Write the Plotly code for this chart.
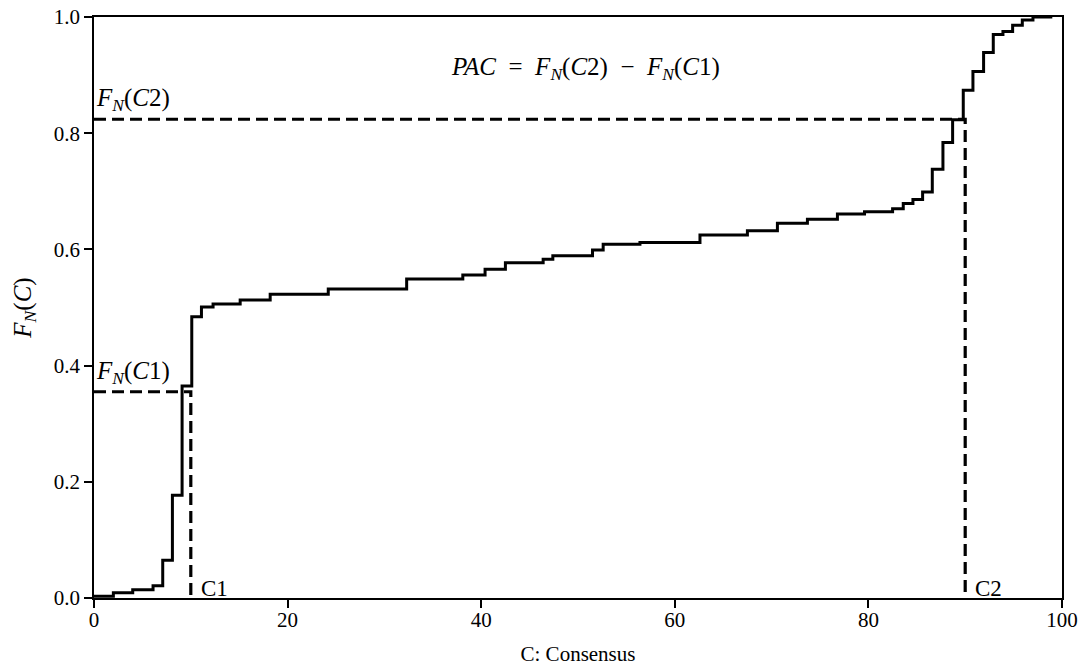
import plotly.graph_objects as go

# Empirical CDF step points (x where the step occurs, value after the step)
consensus = [0, 2.0, 4.0, 6.1, 7.1, 8.1, 9.1, 10.1, 11.1, 12.3, 15.1, 18.2, 24.2, 32.3,
             38.1, 40.4, 42.5, 46.4, 47.4, 51.5, 52.6, 56.4, 62.6, 67.5, 70.6, 73.7,
             76.8, 79.6, 82.5, 83.6, 84.6, 85.6, 86.6, 87.7, 88.7, 89.8, 90.8, 91.9,
             92.9, 93.9, 94.9, 95.9, 97.0, 99.0]
cdf = [0.003, 0.009, 0.014, 0.021, 0.065, 0.177, 0.365, 0.484, 0.501, 0.506, 0.513,
       0.523, 0.532, 0.549, 0.556, 0.566, 0.577, 0.583, 0.589, 0.599, 0.609, 0.612,
       0.625, 0.632, 0.645, 0.652, 0.661, 0.665, 0.670, 0.679, 0.686, 0.699, 0.738,
       0.784, 0.823, 0.874, 0.906, 0.939, 0.970, 0.975, 0.986, 0.995, 1.0, 1.0]

c1 = 10
c2 = 90
f_c1 = 0.355
f_c2 = 0.824

x_ticks = [0, 20, 40, 60, 80, 100]
y_ticks = [0.0, 0.2, 0.4, 0.6, 0.8, 1.0]
y_tick_labels = ["0.0", "0.2", "0.4", "0.6", "0.8", "1.0"]

FONT = "Liberation Serif"
dash = "12px,6px"

fig = go.Figure()
fig.add_trace(go.Scatter(x=consensus, y=cdf, mode="lines", line_shape="hv",
                         line=dict(color="black", width=3), showlegend=False,
                         hoverinfo="skip"))
# C1 guides
fig.add_trace(go.Scatter(x=[0, c1, c1], y=[f_c1, f_c1, 0], mode="lines",
                         line=dict(color="black", width=3.2, dash=dash), showlegend=False))
# C2 guides
fig.add_trace(go.Scatter(x=[0, c2, c2], y=[f_c2, f_c2, 0], mode="lines",
                         line=dict(color="black", width=3.2, dash=dash), showlegend=False))

math_font = dict(family=FONT, size=25, color="black")
fig.add_annotation(x=0, y=f_c2, xref="x", yref="y", text="<i>F</i><sub><i>N</i></sub>(<i>C</i>2)",
                   showarrow=False, xanchor="left", yanchor="bottom", yshift=2, font=math_font)
fig.add_annotation(x=0, y=f_c1, xref="x", yref="y", text="<i>F</i><sub><i>N</i></sub>(<i>C</i>1)",
                   showarrow=False, xanchor="left", yanchor="bottom", yshift=2, font=math_font)
lab_font = dict(family=FONT, size=23, color="black")
fig.add_annotation(x=c1, y=0, xref="x", yref="y", text="C1", showarrow=False,
                   xanchor="left", yanchor="bottom", xshift=8, yshift=-5, font=lab_font)
fig.add_annotation(x=c2, y=0, xref="x", yref="y", text="C2", showarrow=False,
                   xanchor="left", yanchor="bottom", xshift=8, yshift=-5, font=lab_font)
fig.add_annotation(x=50.8, y=0.912, xref="x", yref="y",
                   text="<i>PAC</i>&nbsp; = &nbsp;<i>F</i><sub><i>N</i></sub>(<i>C</i>2)&nbsp; \u2212 &nbsp;<i>F</i><sub><i>N</i></sub>(<i>C</i>1)",
                   showarrow=False, xanchor="center", yanchor="middle", font=math_font)

axis_common = dict(showgrid=False, zeroline=False, showline=True, linecolor="black",
                   linewidth=1.5, mirror=True, ticks="outside", ticklen=8, tickwidth=1.5,
                   tickcolor="black", automargin=False,
                   tickfont=dict(family=FONT, size=21, color="black"))

fig.update_xaxes(range=[0, 100], tickvals=x_ticks, ticktext=[str(v) for v in x_ticks],
                 ticklabelstandoff=-6,
                 title=dict(text="C: Consensus", font=dict(family=FONT, size=21, color="black")),
                 **axis_common)
fig.update_yaxes(range=[0, 1], tickvals=y_ticks, ticktext=y_tick_labels,
                 title=dict(text="<i>F</i><sub><i>N</i></sub>(<i>C</i>)",
                            font=dict(family=FONT, size=25, color="black")),
                 **axis_common)

fig.update_layout(width=1081, height=669, margin=dict(l=94, r=19, t=17, b=71),
                  plot_bgcolor="white", paper_bgcolor="white",
                  font=dict(family=FONT, color="black"))

fig.write_html("out.html")
